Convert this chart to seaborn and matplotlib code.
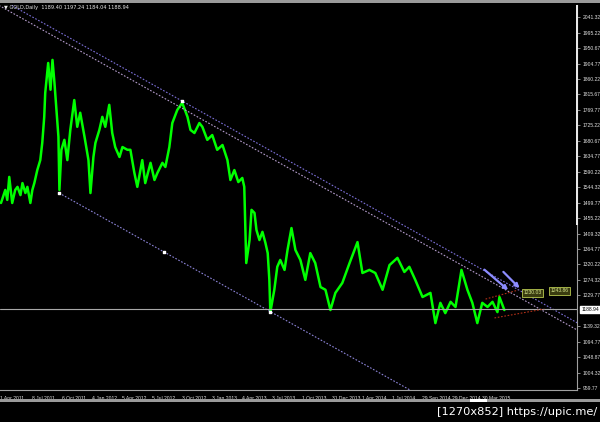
import numpy as np
import pandas as pd
import matplotlib
matplotlib.use("Agg")
import matplotlib.pyplot as plt
from matplotlib.patches import Rectangle
import seaborn as sns

# ── Price path (GOLD daily) ─────────────────────────────────────────────────
dates = [
    "2011-04-04", "2011-04-17", "2011-04-23", "2011-04-29", "2011-05-08", "2011-05-17",
    "2011-05-24", "2011-06-02", "2011-06-08", "2011-06-17", "2011-06-23", "2011-07-02",
    "2011-07-08", "2011-07-14", "2011-07-23", "2011-08-01", "2011-08-07", "2011-08-13",
    "2011-08-16", "2011-08-25", "2011-09-01", "2011-09-07", "2011-09-13", "2011-09-19",
    "2011-09-25", "2011-09-28", "2011-10-04", "2011-10-13", "2011-10-22", "2011-10-31",
    "2011-11-12", "2011-11-21", "2011-11-30", "2011-12-13", "2011-12-25", "2011-12-31",
    "2012-01-09", "2012-01-15", "2012-01-27", "2012-02-05", "2012-02-14", "2012-02-26",
    "2012-03-06", "2012-03-15", "2012-03-28", "2012-04-06", "2012-04-21", "2012-04-30",
    "2012-05-12", "2012-05-21", "2012-06-05", "2012-06-14", "2012-06-30", "2012-07-12",
    "2012-07-21", "2012-08-05", "2012-08-14", "2012-08-26", "2012-09-04", "2012-09-19",
    "2012-10-04", "2012-10-20", "2012-10-29", "2012-11-10", "2012-11-25", "2012-12-04",
    "2012-12-19", "2013-01-03", "2013-01-18", "2013-02-03", "2013-02-18", "2013-02-27",
    "2013-03-11", "2013-03-23", "2013-04-04", "2013-04-10", "2013-04-16", "2013-04-26",
    "2013-05-02", "2013-05-11", "2013-05-17", "2013-05-26", "2013-06-04", "2013-06-13",
    "2013-06-20", "2013-06-25", "2013-06-28", "2013-07-10", "2013-07-19", "2013-07-28",
    "2013-08-10", "2013-08-19", "2013-08-31", "2013-09-12", "2013-09-27", "2013-10-12",
    "2013-10-27", "2013-11-11", "2013-11-27", "2013-12-12", "2013-12-27", "2014-01-11",
    "2014-02-01", "2014-02-23", "2014-03-19", "2014-04-03", "2014-04-24", "2014-05-12",
    "2014-06-03", "2014-06-24", "2014-07-18", "2014-08-08", "2014-08-23", "2014-09-10",
    "2014-10-02", "2014-10-26", "2014-11-10", "2014-11-25", "2014-12-10", "2014-12-26",
    "2015-01-10", "2015-01-28", "2015-02-15", "2015-03-02", "2015-03-17", "2015-04-01",
    "2015-04-17", "2015-05-02", "2015-05-17", "2015-05-23", "2015-06-07",
]
prices = [
    1499, 1537, 1508, 1575, 1499, 1537,
    1546, 1522, 1557, 1528, 1546, 1499,
    1537, 1557, 1595, 1624, 1674, 1750,
    1820, 1907, 1829, 1916, 1849, 1770,
    1692, 1537, 1654, 1683, 1624, 1712,
    1799, 1721, 1762, 1692, 1624, 1528,
    1633, 1674, 1712, 1750, 1721, 1785,
    1703, 1662, 1633, 1662, 1654, 1654,
    1587, 1546, 1624, 1557, 1616, 1566,
    1587, 1616, 1604, 1662, 1732, 1770,
    1791, 1750, 1712, 1703, 1732, 1721,
    1683, 1697, 1654, 1668, 1624, 1566,
    1595, 1560, 1572, 1546, 1324, 1391,
    1479, 1470, 1420, 1391, 1415, 1383,
    1353, 1275, 1181, 1246, 1313, 1333,
    1304, 1362, 1426, 1362, 1333, 1275,
    1353, 1324, 1254, 1246, 1187, 1237,
    1266, 1324, 1385, 1295, 1304, 1295,
    1246, 1318, 1339, 1298, 1313, 1275,
    1225, 1237, 1149, 1208, 1178, 1211,
    1196, 1304, 1246, 1208, 1149, 1208,
    1196, 1211, 1181, 1225, 1187,
]

header = "\u25bc GOLD,Daily  1189.40 1197.24 1184.04 1188.94"
last_price = 1188.94

x_tick_dates = ["2011-04-01", "2011-07-08", "2011-10-06", "2012-01-04", "2012-04-05",
                "2012-07-05", "2012-10-03", "2013-01-03", "2013-04-04", "2013-07-03",
                "2013-10-01", "2013-12-31", "2014-04-01", "2014-07-01", "2014-09-29",
                "2014-12-29", "2015-03-30"]
x_tick_labels = ["1 Apr 2011", "8 Jul 2011", "6 Oct 2011", "4 Jan 2012", "5 Apr 2012",
                 "5 Jul 2012", "3 Oct 2012", "3 Jan 2013", "4 Apr 2013", "3 Jul 2013",
                 "1 Oct 2013", "31 Dec 2013", "1 Apr 2014", "1 Jul 2014", "29 Sep 2014",
                 "29 Dec 2014", "30 Mar 2015"]
y_ticks = [2041.32, 1995.22, 1950.67, 1904.77, 1860.22, 1815.67, 1769.77, 1725.22,
           1680.67, 1634.77, 1590.22, 1544.32, 1499.77, 1455.22, 1409.32, 1364.77,
           1320.22, 1274.32, 1229.77, 1139.32, 1094.77, 1048.87, 1004.32, 959.77]

# equidistant channel: anchors + common slope ($/day)
upper_anchor = ("2012-10-04", 1796)
lower_anchor = ("2011-09-27", 1528)
lower_points = ["2012-08-11", "2013-06-28"]
channel_slope = -0.54
upper_gap = 21

# red trend lines near the end
red1 = (["2015-04-11", "2015-07-18"], [1219, 1245])
red2 = (["2015-05-08", "2015-10-06"], [1164, 1190])

# arrows (start -> tip)
arrows = [(("2015-04-01", 1310), ("2015-06-25", 1240)),
          (("2015-05-29", 1304), ("2015-07-29", 1245))]
# price labels
price_tags = [("2015-08-31", 1237, "1230.03"), ("2015-11-21", 1243, "1243.86")]

x_min, x_max = "2011-04-01", "2016-01-13"
y_min, y_max = 954, 2076

# ── Figure ─────────────────────────────────────────────────────────────────
sns.set_style("dark")
plt.rcParams["font.family"] = ["Liberation Sans", "DejaVu Sans"]

fig = plt.figure(figsize=(6, 4.22), dpi=100, facecolor="black")
ax = fig.add_axes([0, 1 - 390 / 422, 577 / 600, 385 / 422])
ax.set_facecolor("black")

df = pd.DataFrame({"date": pd.to_datetime(dates), "price": prices})
sns.lineplot(data=df, x="date", y="price", ax=ax, color="#00ff00", lw=1.8)

# channel lines
t0 = pd.Timestamp(x_min) - pd.Timedelta(days=60)
t1 = pd.Timestamp(x_max) + pd.Timedelta(days=60)
ua_d, ua_p = pd.Timestamp(upper_anchor[0]), upper_anchor[1]
la_d, la_p = pd.Timestamp(lower_anchor[0]), lower_anchor[1]

def on_line(d0, p0, d):
    return p0 + channel_slope * (d - d0).days

ax.plot([t0, t1], [on_line(ua_d, ua_p, t0), on_line(ua_d, ua_p, t1)],
        color="#7c70d8", lw=0.8, ls=(0, (1.5, 1.5)))
ax.plot([t0, t1], [on_line(ua_d, ua_p, t0) - upper_gap, on_line(ua_d, ua_p, t1) - upper_gap],
        color="#b49ccc", lw=0.8, ls=(0, (1.5, 1.5)))
ax.plot([la_d, t1], [la_p, on_line(la_d, la_p, t1)],
        color="#8c84d8", lw=0.8, ls=(0, (1.5, 1.5)))
mk_d = [ua_d, la_d] + [pd.Timestamp(d) for d in lower_points]
mk_p = [ua_p, la_p] + [on_line(la_d, la_p, pd.Timestamp(d)) for d in lower_points]
ax.scatter(mk_d, mk_p, s=3, marker="s", color="white", zorder=5)

# current price line
ax.axhline(last_price, color="#a8a8a8", lw=0.8)

# red trend lines
for ds, ps in (red1, red2):
    ax.plot(pd.to_datetime(ds), ps, color="#b03018", lw=0.8, ls=(0, (1.5, 1.5)))

# arrows
for (sd, sp), (ed, ep) in arrows:
    ax.annotate("", xy=(pd.Timestamp(ed), ep), xytext=(pd.Timestamp(sd), sp),
                arrowprops=dict(arrowstyle="-|>", color="#8c8cff", lw=1.6,
                                mutation_scale=6))

for d, p, s in price_tags:
    ax.text(pd.Timestamp(d), p, s, fontsize=3.6, color="#d8e890", ha="center", va="center",
            bbox=dict(boxstyle="square,pad=0.25", fc="#3a3c10", ec="#b8c850", lw=0.6))

ax.set_xlim(pd.Timestamp(x_min), pd.Timestamp(x_max))
ax.set_ylim(y_min, y_max)
ax.set_xlabel("")
ax.set_ylabel("")

ax.set_xticks(pd.to_datetime(x_tick_dates))
ax.set_xticklabels(x_tick_labels, ha="left")
ax.yaxis.tick_right()
ax.set_yticks(y_ticks)
ax.set_yticklabels([f"{v:.2f}" for v in y_ticks])
ax.tick_params(axis="both", colors="#a0a0a0", labelcolor="#e0e0e0", labelsize=3.6,
               length=2.5, width=0.6, pad=1.5, direction="out")
ax.grid(False)
for side in ("left", "top"):
    ax.spines[side].set_visible(False)
for side in ("right", "bottom"):
    ax.spines[side].set_color("#a0a0a0")
    ax.spines[side].set_linewidth(0.8)

# current price tag on the scale
ax.annotate(f"{last_price:.2f}", xy=(1.0, last_price), xycoords=("axes fraction", "data"),
            xytext=(3, 0), textcoords="offset points", fontsize=3.6, color="black",
            va="center", ha="left",
            bbox=dict(boxstyle="square,pad=0.2", fc="white", ec="white"))

# window chrome
fig.patches.append(Rectangle((0, 1 - 3 / 422), 1, 3 / 422, transform=fig.transFigure,
                             fc="#9a9a9a", ec="none"))
fig.patches.append(Rectangle((0, 1 - 402 / 422), 1, 3 / 422, transform=fig.transFigure,
                             fc="#9a9a9a", ec="none"))
fig.patches.append(Rectangle((470 / 600, 1 - 402 / 422), 17 / 600, 3 / 422,
                             transform=fig.transFigure, fc="white", ec="none"))
fig.patches.append(Rectangle((576 / 600, 1 - 225 / 422), 2 / 600, 220 / 422,
                             transform=fig.transFigure, fc="#e8e8e8", ec="none"))

fig.text(4 / 600, 1 - 8 / 422, header, fontsize=3.6, color="#e8e8e8", va="center",
         family=["DejaVu Sans"])
fig.text(597 / 600, 1 - 412 / 422, "[1270x852] https://upic.me/", fontsize=8.2,
         color="white", ha="right", va="center", family=["DejaVu Sans"])

fig.savefig("out.png", dpi=100, facecolor="black")
